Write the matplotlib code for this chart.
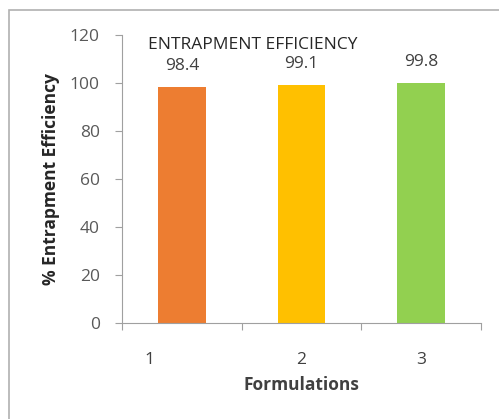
import matplotlib
matplotlib.use('Agg')
import matplotlib.pyplot as plt
from matplotlib.patches import Rectangle

# donnees
formulations = ['1', '2', '3']
efficacite = [98.4, 99.1, 99.8]
couleurs = ['#ED7D31', '#FFC000', '#92D050']
yticks = [0, 20, 40, 60, 80, 100, 120]

plt.rcParams['font.family'] = ['Open Sans', 'DejaVu Sans']

fig = plt.figure(figsize=(4.99, 4.19), dpi=100)
ax = fig.add_axes([0.2445, 0.229, 0.7195, 0.6875])

x = range(len(formulations))
ax.bar(x, efficacite, width=0.4, color=couleurs)
for xi, v in zip(x, efficacite):
    ax.text(xi, v + 5.5, '%.1f' % v, ha='center', va='bottom', fontsize=12.5, color='#404040')

ax.set_xlim(-0.5, 2.5)
ax.set_ylim(0, 120)
ax.set_yticks(yticks)
ax.tick_params(axis='y', labelsize=12.5, labelcolor='#595959', color='#A0A0A0', length=5, pad=11)

# ticks de l'axe x aux limites des categories
ax.set_xticks([-0.5, 0.5, 1.5, 2.5])
ax.set_xticklabels([])
ax.tick_params(axis='x', direction='out', color='#A0A0A0', length=5)
lab_x = [-0.27, 1, 2]
for xl, lab in zip(lab_x, formulations):
    ax.text(xl, -15.4, lab, ha='center', va='center', fontsize=12.5, color='#404040')
ax.text(1, -26, 'Formulations', ha='center', va='center', fontsize=12.5, color='#404040', fontweight='bold')

for s in ['top', 'right']:
    ax.spines[s].set_visible(False)
for s in ['left', 'bottom']:
    ax.spines[s].set_color('#A0A0A0')

ax.set_ylabel('% Entrapment Efficiency', fontsize=12.5, fontweight='bold', color='#262626', labelpad=7)
ax.text(0.072, 0.965, 'ENTRAPMENT EFFICIENCY', transform=ax.transAxes, fontsize=12.5,
        color='#262626', ha='left', va='center')

# cadre exterieur
fig.patches.append(Rectangle((9 / 499, -0.1), 1.2, 1 - 10 / 419 + 0.1, transform=fig.transFigure,
                             fill=False, edgecolor='#B0B0B0', linewidth=1.2))

fig.savefig('out.png', dpi=100)
